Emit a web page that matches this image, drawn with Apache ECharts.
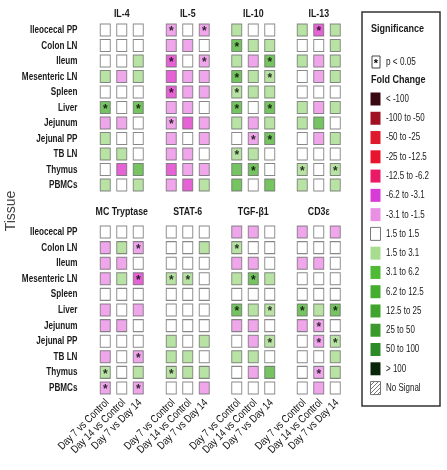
<!DOCTYPE html>
<html><head><meta charset="utf-8">
<script src="https://cdn.jsdelivr.net/npm/echarts@6/dist/echarts.min.js"></script>
<style>html,body{margin:0;padding:0;background:#fff}#c{width:447px;height:470px}</style>
</head><body><div id="c"></div>
<script>
const tissues = ['Ileocecal PP','Colon LN','Ileum','Mesenteric LN','Spleen','Liver','Jejunum','Jejunal PP','TB LN','Thymus','PBMCs'];
const comparisons = ['Day 7 vs Control','Day 14 vs Control','Day 7 vs Day 14'];
const genes = ['IL-4','IL-5','IL-10','IL-13','MC Tryptase','STAT-6','TGF-β1','CD3ε'];

// fold-change bin per tissue (rows) x comparison (cols): -2 = -6.2..-3.1, -1 = -3.1..-1.5, 0 = -1.5..1.5, 1 = 1.5..3.1, 2 = 3.1..6.2
const il4Fold = [[0,0,0],[0,0,0],[0,0,1],[1,-1,1],[0,0,0],[2,0,2],[-1,-1,0],[1,0,0],[1,1,0],[0,-2,2],[1,0,1]];
const il4Sig  = [[0,0,0],[0,0,0],[0,0,0],[0,0,0],[0,0,0],[1,0,1],[0,0,0],[0,0,0],[0,0,0],[0,0,0],[0,0,0]];
const il5Fold = [[-1,0,-1],[-1,-1,0],[-2,0,-1],[-2,-1,-1],[-2,-1,-1],[-1,-1,0],[-1,-2,-1],[-1,0,-1],[-1,-1,0],[-2,-1,-1],[-1,-2,1]];
const il5Sig  = [[1,0,1],[0,0,0],[1,0,1],[0,0,0],[1,0,0],[0,0,0],[1,0,0],[0,0,0],[0,0,0],[0,0,0],[0,0,0]];
const il10Fold = [[1,0,0],[2,1,1],[1,-1,2],[2,1,1],[1,1,1],[2,0,2],[1,-1,1],[0,-1,2],[1,1,0],[2,2,0],[2,0,2]];
const il10Sig  = [[0,0,0],[1,0,0],[0,0,1],[1,0,1],[1,0,0],[1,0,1],[0,0,0],[0,1,1],[1,0,0],[0,1,0],[0,0,0]];
const il13Fold = [[1,-2,1],[0,0,1],[1,-1,1],[0,-1,1],[0,0,0],[1,-1,1],[1,2,0],[0,-1,1],[0,0,0],[1,0,1],[1,0,1]];
const il13Sig  = [[0,1,0],[0,0,0],[0,0,0],[0,0,0],[0,0,0],[0,0,0],[0,0,0],[0,0,0],[0,0,0],[1,0,1],[0,0,0]];
const mctFold = [[0,0,0],[-1,1,-1],[-1,-1,0],[-1,1,-2],[0,0,0],[-1,0,-1],[-1,-1,0],[0,0,0],[-1,0,-1],[1,0,1],[-1,0,-1]];
const mctSig  = [[0,0,0],[0,0,1],[0,0,0],[0,0,1],[0,0,0],[0,0,0],[0,0,0],[0,0,0],[0,0,1],[1,0,0],[1,0,1]];
const stat6Fold = [[0,0,0],[0,0,1],[0,0,0],[1,1,0],[0,0,0],[0,0,0],[0,0,0],[1,0,1],[1,1,0],[1,1,1],[0,0,-1]];
const stat6Sig  = [[0,0,0],[0,0,0],[0,0,0],[1,1,0],[0,0,0],[0,0,0],[0,0,0],[0,0,0],[0,0,0],[1,0,0],[0,0,0]];
const tgfFold = [[-1,-1,0],[1,0,0],[-1,-1,0],[1,2,1],[0,0,0],[2,1,1],[-1,-1,0],[0,-1,1],[1,1,0],[0,-1,2],[0,0,0]];
const tgfSig  = [[0,0,0],[1,0,0],[0,0,0],[0,1,0],[0,0,0],[1,0,1],[0,0,0],[0,0,1],[0,0,0],[0,0,0],[0,0,0]];
const cd3Fold = [[-1,0,-1],[0,0,0],[-1,-1,0],[0,0,0],[0,0,0],[2,1,2],[-1,-1,0],[0,-1,1],[0,0,1],[0,-1,1],[0,-1,0]];
const cd3Sig  = [[0,0,0],[0,0,0],[0,0,0],[0,0,0],[0,0,0],[1,0,1],[0,1,0],[0,1,1],[0,0,0],[0,1,0],[0,0,0]];

const legendLabels = ['< -100','-100 to -50','-50 to -25','-25 to -12.5','-12.5 to -6.2','-6.2 to -3.1','-3.1 to -1.5','1.5 to 1.5','1.5 to 3.1','3.1 to 6.2','6.2 to 12.5','12.5 to 25','25 to 50','50 to 100','> 100','No Signal'];
const legendColors = ['#3a0810','#a00f22','#de1a2c','#e8142e','#ea1a66','#d83ad6','#ea90e4','#ffffff','#a8dc8e','#4fba36','#44ae2e','#3ea42c','#3a9a2c','#2e8c28','#0a260a','hatch'];

const foldSets = [il4Fold, il5Fold, il10Fold, il13Fold, mctFold, stat6Fold, tgfFold, cd3Fold];
const sigSets = [il4Sig, il5Sig, il10Sig, il13Sig, mctSig, stat6Sig, tgfSig, cd3Sig];
const binColor = {'-2':'#e03ccb','-1':'#eb90e6','0':'#ffffff','1':'#a8dc8e','2':'#52b53a'};

const chart = echarts.init(document.getElementById('c'), null, {renderer:'canvas'});
const gridLefts = [97, 163, 228.5, 294];
const gridW = 49.5;
const panelTops = [22.3, 224.2];
const panelH = [170.5, 171.6];
const sans = 'Liberation Sans, Arial, sans-serif';

const grids = [], xAxes = [], yAxes = [], series = [];
genes.forEach((g, gi) => {
  const col = gi % 4, row = Math.floor(gi / 4);
  grids.push({left: gridLefts[col], top: panelTops[row], width: gridW, height: panelH[row]});
  xAxes.push({type:'category', gridIndex: gi, data: comparisons,
    axisLine:{show:false}, axisTick:{show:false}, splitLine:{show:false}, axisLabel:{show:false}});
  yAxes.push({type:'category', gridIndex: gi, data: tissues, inverse: true,
    axisLine:{show:false}, axisTick:{show:false}, splitLine:{show:false}, axisLabel:{show:false}});
  const data = [];
  foldSets[gi].forEach((r, ti) => r.forEach((v, ci) => data.push([ci, ti, v, sigSets[gi][ti][ci]])));
  series.push({type:'scatter', xAxisIndex: gi, yAxisIndex: gi, symbol:'rect', symbolSize:[10,12], data,
    itemStyle:{color: p => binColor[String(p.data[2])], borderColor:'#6a6a6a', borderWidth:1},
    label:{show:true, position:'inside', formatter: p => p.data[3] ? '*' : '', color:'#000', fontSize:12, fontWeight:'bold', offset:[0,2], fontFamily: sans},
    emphasis:{disabled:true}, silent:true});
});

chart.setOption({animation:false, backgroundColor:'#fff', grid: grids, xAxis: xAxes, yAxis: yAxes, series});

const graphics = [];
function txt(x, y, text, o) {
  o = o || {};
  graphics.push({type:'text', x, y, scaleX: o.sx || 1, scaleY: 1, rotation: o.rot || 0,
    style:{text, textAlign: o.align || 'left', textVerticalAlign:'middle', fontSize: o.size || 11,
      fontWeight: o.bold ? 'bold' : 'normal', fill: o.fill || '#1a1a1a', fontFamily: sans}});
}

// gene titles, tissue labels (via axis scale), comparison labels
genes.forEach((g, gi) => {
  const col = gi % 4, row = Math.floor(gi / 4);
  const c = chart.convertToPixel({gridIndex: gi}, [1, 0]);
  txt(c[0], row === 0 ? 14 : 212, g, {align:'center', bold:true, sx:0.8});
  if (col === 0) {
    tissues.forEach((t, ti) => {
      const p = chart.convertToPixel({gridIndex: gi}, [0, ti]);
      txt(77.5, p[1], t, {align:'right', bold:true, sx:0.74});
    });
  }
  if (row === 1) {
    comparisons.forEach((cmp, ci) => {
      const p = chart.convertToPixel({gridIndex: gi}, [ci, tissues.length - 1]);
      txt(p[0] + 2, p[1] + 13, cmp, {align:'right', size:11, sx:0.82, rot: Math.PI/4, fill:'#111'});
    });
  }
});

// Y axis name
txt(11, 211, 'Tissue', {align:'center', size:14, rot: Math.PI/2, fill:'#444'});

// Legend
graphics.push({type:'rect', shape:{x:362, y:12, width:78, height:394}, style:{fill:'#fff', stroke:'#333', lineWidth:1.5}, z:-1});
txt(371, 29, 'Significance', {bold:true, sx:0.82});
graphics.push({type:'rect', shape:{x:372, y:56, width:8, height:12}, style:{fill:'#fff', stroke:'#444', lineWidth:1}});
txt(376, 64, '*', {align:'center', bold:true, fill:'#000'});
txt(386, 62, 'p < 0.05', {size:10.5, sx:0.78});
txt(371, 80, 'Fold Change', {bold:true, sx:0.82});

const hatch = document.createElement('canvas');
hatch.width = 4; hatch.height = 4;
const hc = hatch.getContext('2d');
hc.fillStyle = '#fff'; hc.fillRect(0,0,4,4);
hc.strokeStyle = '#555'; hc.lineWidth = 0.8;
hc.beginPath(); hc.moveTo(0,4); hc.lineTo(4,0); hc.moveTo(-1,1); hc.lineTo(1,-1); hc.moveTo(3,5); hc.lineTo(5,3); hc.stroke();

legendLabels.forEach((lab, i) => {
  const y = 99 + i * 19.27;
  const c = legendColors[i];
  graphics.push({type:'rect', shape:{x:370.5, y: y - 6.5, width:10, height:13},
    style:{fill: c === 'hatch' ? {image: hatch, repeat:'repeat'} : c, stroke: (c === '#ffffff' || c === 'hatch') ? '#555' : null, lineWidth: 0.8}});
  txt(386, y, lab, {size:10.5, sx:0.76});
});

chart.setOption({graphic: graphics});
</script></body></html>
